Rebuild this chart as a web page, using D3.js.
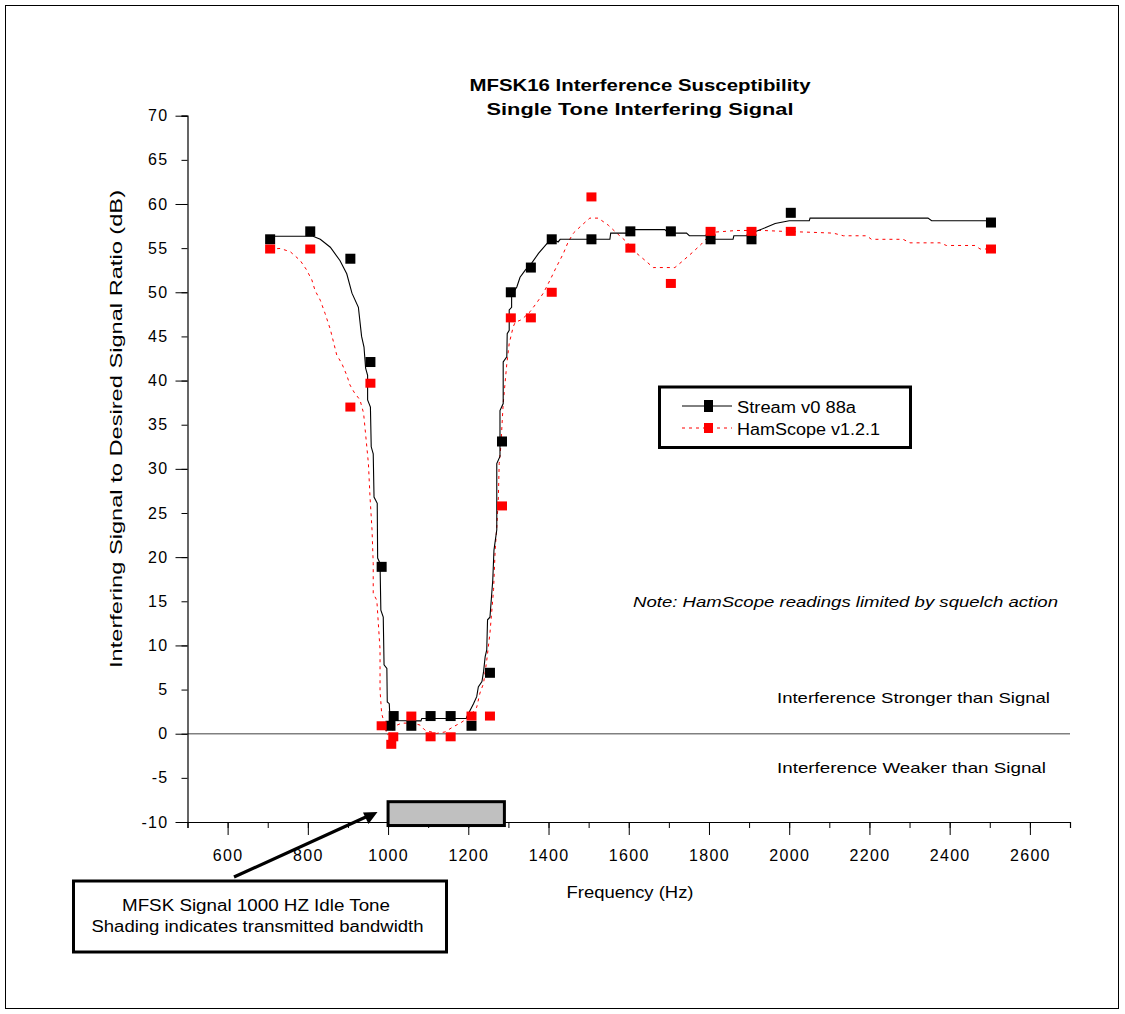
<!DOCTYPE html>
<html><head><meta charset="utf-8">
<script src="https://cdn.jsdelivr.net/npm/d3@7"></script>
<style>body{margin:0;background:#fff} text{font-family:"Liberation Sans",Arial,sans-serif;fill:#000}</style>
</head><body><svg id="c" width="1125" height="1014"></svg>
<script>
// ---- data ----
const titleLines = ["MFSK16 Interference Susceptibility", "Single Tone Interfering Signal"];
const seriesNames = ["Stream v0 88a", "HamScope v1.2.1"];
const xMajorTicks = [600, 800, 1000, 1200, 1400, 1600, 1800, 2000, 2200, 2400, 2600];
const xMinorTicks = [500, 600, 700, 800, 900, 1000, 1100, 1200, 1300, 1400, 1500, 1600, 1700, 1800, 1900, 2000, 2100, 2200, 2300, 2400, 2500, 2600, 2700];
const yLabelTicks = [-10, -5, 0, 5, 10, 15, 20, 25, 30, 35, 40, 45, 50, 55, 60, 65, 70];
const yMajorTicks = [-10, 0, 10, 20, 30, 40, 50, 60, 70];

// measured points (markers)
const streamFreq = [706, 806, 906, 956, 984, 1006, 1014, 1058, 1106, 1156, 1208, 1254, 1284, 1306, 1356, 1408, 1507, 1604, 1705, 1804, 1906, 2004, 2503];
const streamDb   = [56.0, 56.9, 53.8, 42.1, 18.9, 0.9, 2.0, 0.9, 2.0, 2.0, 0.9, 6.9, 33.1, 50.0, 52.8, 56.0, 56.0, 56.9, 56.9, 56.0, 56.0, 59.0, 57.9];
const hamFreq = [706, 806, 906, 956, 984, 1008, 1013, 1058, 1106, 1156, 1208, 1254, 1284, 1306, 1356, 1408, 1507, 1604, 1705, 1804, 1906, 2004, 2503];
const hamDb   = [54.9, 54.9, 37.0, 39.7, 0.9, -1.2, -0.35, 2.0, -0.35, -0.35, 2.0, 2.0, 25.8, 47.1, 47.1, 50.0, 60.8, 55.0, 51.0, 56.9, 56.9, 56.9, 54.9];

// smoothed curves
const streamLineFreq = [706, 813, 831, 856, 880, 897, 910, 926, 934, 940, 944, 949, 949, 956, 958, 963, 965, 973, 974, 980, 982, 988, 990, 997, 998, 1003, 1005, 1082, 1084, 1195, 1196, 1213, 1221, 1225, 1234, 1238, 1242, 1246, 1248, 1254, 1261, 1264, 1271, 1271, 1279, 1279, 1287, 1287, 1296, 1297, 1302, 1302, 1308, 1308, 1321, 1329, 1342, 1358, 1375, 1396, 1408, 1424, 1429, 1553, 1555, 1611, 1611, 1690, 1699, 1744, 1751, 1798, 1800, 1860, 1862, 1900, 1905, 1940, 1965, 2000, 2050, 2052, 2346, 2355, 2503];
const streamLineDb   = [56.35, 56.35, 56.0, 55.1, 53.6, 52.1, 49.9, 48.3, 45.0, 43.8, 41.4, 40.6, 37.8, 37.0, 32.5, 31.7, 26.8, 26.1, 19.9, 19.3, 14.0, 13.2, 7.8, 7.4, 3.6, 3.4, 1.5, 1.46, 1.73, 1.73, 1.9, 3.4, 4.2, 5.3, 5.9, 7.0, 8.7, 9.5, 12.9, 13.2, 17.4, 20.8, 23.1, 30.6, 31.4, 36.6, 37.4, 42.1, 42.7, 45.3, 45.7, 48.0, 48.3, 49.7, 50.6, 51.7, 52.5, 53.3, 54.4, 55.5, 56.1, 55.7, 56.0, 56.0, 56.7, 56.7, 57.1, 57.1, 56.7, 56.7, 56.4, 56.4, 56.0, 56.0, 56.4, 56.4, 56.7, 57.3, 57.8, 58.1, 58.1, 58.4, 58.4, 58.1, 58.1];
const hamLineFreq = [706, 731, 756, 781, 796, 810, 818, 831, 843, 856, 866, 872, 885, 897, 905, 915, 930, 939, 943, 947, 951, 955, 960, 963, 963, 972, 980, 980, 984, 993, 997, 1009, 1022, 1034, 1063, 1080, 1092, 1121, 1142, 1163, 1180, 1196, 1209, 1221, 1229, 1238, 1246, 1254, 1263, 1267, 1271, 1275, 1277, 1281, 1287, 1296, 1302, 1312, 1317, 1333, 1354, 1372, 1387, 1404, 1420, 1437, 1449, 1462, 1483, 1503, 1524, 1549, 1570, 1595, 1620, 1641, 1661, 1715, 1736, 1761, 1782, 1798, 1811, 1869, 1935, 1985, 2052, 2110, 2135, 2193, 2205, 2284, 2301, 2376, 2392, 2463, 2476, 2503];
const hamLineDb   = [54.9, 54.96, 54.6, 53.6, 52.6, 51.4, 50.2, 49.1, 47.6, 45.8, 44.0, 42.9, 41.9, 40.6, 39.5, 38.7, 37.8, 36.3, 34.4, 32.5, 30.6, 26.8, 23.1, 19.3, 15.9, 15.1, 9.5, 4.9, 2.3, 0.8, -0.15, 0.2, 0.97, 1.2, 1.2, 0.97, 0.4, 0.03, 0.2, 0.8, 1.2, 1.7, 2.3, 3.0, 4.6, 5.7, 8.3, 11.4, 16.3, 20.8, 23.4, 26.8, 30.6, 32.5, 37.4, 41.9, 44.2, 46.1, 46.6, 46.9, 47.8, 48.9, 49.9, 51.4, 52.9, 54.4, 55.7, 56.7, 57.6, 58.4, 58.4, 57.6, 56.7, 55.7, 54.4, 53.6, 52.8, 52.8, 53.6, 54.6, 55.5, 56.3, 56.8, 57.0, 57.0, 56.9, 56.8, 56.7, 56.4, 56.4, 56.0, 56.0, 55.6, 55.6, 55.3, 55.3, 54.9, 54.9];

// transmitted bandwidth shading
const bandFreq = [1000, 1290];
const bandDb = [-10.4, -7.7];

// ---- drawing ----
const svg = d3.select("#c");
const x = d3.scaleLinear().domain([500, 2700]).range([187.5, 1070]);
const y = d3.scaleLinear().domain([-10, 70]).range([822, 115.7]);

// outer frame
svg.append("rect").attr("x", 5.5).attr("y", 5.5).attr("width", 1113).attr("height", 1003)
  .attr("fill", "none").attr("stroke", "#000").attr("stroke-width", 1);

// title
svg.selectAll("text.title").data(titleLines).join("text")
  .attr("x", 640).attr("y", (d, i) => 91 + i * 23.5)
  .attr("text-anchor", "middle").attr("font-size", 17).attr("font-weight", "bold")
  .attr("textLength", (d, i) => i === 0 ? 341 : 307).attr("lengthAdjust", "spacingAndGlyphs")
  .text(d => d);

// zero line
svg.append("line").attr("x1", x(500)).attr("x2", x(2700)).attr("y1", y(0)).attr("y2", y(0))
  .attr("stroke", "#808080").attr("stroke-width", 1.5);

// axes
const fmt = d => d;
const yAx = svg.append("g").attr("transform", `translate(${x(500)},0)`)
  .call(d3.axisLeft(y).tickValues(yLabelTicks).tickSize(6).tickPadding(13).tickFormat(fmt));
svg.append("g").attr("transform", `translate(${x(500)},0)`)
  .call(d3.axisLeft(y).tickValues(yMajorTicks).tickSize(12).tickFormat(""))
  .select(".domain").remove();
const xAx = svg.append("g").attr("transform", `translate(0,${y(-10)})`)
  .call(d3.axisBottom(x).tickValues(xMinorTicks).tickSize(6).tickFormat(""));
svg.append("g").attr("transform", `translate(0,${y(-10)})`)
  .call(d3.axisBottom(x).tickValues(xMajorTicks).tickSize(13).tickPadding(15).tickFormat(fmt))
  .select(".domain").remove();
svg.selectAll(".domain").attr("stroke", "#000").attr("stroke-width", 1.2);
svg.selectAll(".tick line").attr("stroke", "#000");
svg.selectAll(".tick text").attr("font-size", 16).attr("letter-spacing", 1.3)
  .attr("font-family", '"Liberation Sans",Arial,sans-serif').attr("fill", "#000");
// remove outer ticks of domain path (Excel style)
svg.selectAll(".domain").attr("d", function () {
  const d = d3.select(this.parentNode).attr("transform");
  return d3.select(this).attr("d");
});

// axis titles
svg.append("text").attr("transform", "translate(122,429) rotate(-90)")
  .attr("text-anchor", "middle").attr("font-size", 16)
  .attr("textLength", 478).attr("lengthAdjust", "spacingAndGlyphs")
  .text("Interfering Signal to Desired Signal Ratio (dB)");
svg.append("text").attr("x", 630).attr("y", 898).attr("text-anchor", "middle").attr("font-size", 16)
  .attr("textLength", 127).attr("lengthAdjust", "spacingAndGlyphs").text("Frequency (Hz)");

// band shading
svg.append("rect").attr("x", x(bandFreq[0])).attr("width", x(bandFreq[1]) - x(bandFreq[0]))
  .attr("y", y(bandDb[1])).attr("height", y(bandDb[0]) - y(bandDb[1]))
  .attr("fill", "#c0c0c0").attr("stroke", "#000").attr("stroke-width", 3);

// curves
const line = d3.line().x(d => x(d[0])).y(d => y(d[1]));
const hamLine = hamLineFreq.map((f, i) => [f, hamLineDb[i]]);
const streamLine = streamLineFreq.map((f, i) => [f, streamLineDb[i]]);
svg.append("path").attr("d", line(hamLine)).attr("fill", "none")
  .attr("stroke", "#ff0000").attr("stroke-width", 1).attr("stroke-dasharray", "3,4");
svg.append("path").attr("d", line(streamLine)).attr("fill", "none")
  .attr("stroke", "#000").attr("stroke-width", 1.1);

// markers
const streamPts = streamFreq.map((f, i) => [f, streamDb[i]]);
const hamPts = hamFreq.map((f, i) => [f, hamDb[i]]);
svg.selectAll("rect.sm").data(streamPts).join("rect").attr("class", "sm")
  .attr("x", d => x(d[0]) - 5).attr("y", d => y(d[1]) - 5).attr("width", 10).attr("height", 10)
  .attr("fill", "#000");
svg.selectAll("rect.hm").data(hamPts).join("rect").attr("class", "hm")
  .attr("x", d => x(d[0]) - 5).attr("y", d => y(d[1]) - 4.5).attr("width", 10).attr("height", 9)
  .attr("fill", "#ff0000");

// legend
const lg = svg.append("g");
lg.append("rect").attr("x", 659.5).attr("y", 387).attr("width", 251).attr("height", 60.5)
  .attr("fill", "#fff").attr("stroke", "#000").attr("stroke-width", 3);
const legY = [406, 428];
lg.append("line").attr("x1", 682).attr("x2", 732).attr("y1", legY[0]).attr("y2", legY[0]).attr("stroke", "#000");
lg.append("rect").attr("x", 704).attr("y", legY[0] - 6).attr("width", 9).attr("height", 12).attr("fill", "#000");
lg.append("line").attr("x1", 682).attr("x2", 732).attr("y1", legY[1]).attr("y2", legY[1])
  .attr("stroke", "#ff0000").attr("stroke-dasharray", "3,4");
lg.append("rect").attr("x", 704).attr("y", legY[1] - 5).attr("width", 9).attr("height", 10).attr("fill", "#ff0000");
lg.selectAll("text").data(seriesNames).join("text")
  .attr("x", 737).attr("y", (d, i) => legY[i] + 7).attr("font-size", 16)
  .attr("textLength", (d, i) => i === 0 ? 119 : 143).attr("lengthAdjust", "spacingAndGlyphs")
  .text(d => d);

// notes
svg.append("text").attr("x", 633).attr("y", 607).attr("font-size", 15).attr("font-style", "italic")
  .attr("textLength", 425).attr("lengthAdjust", "spacingAndGlyphs")
  .text("Note:  HamScope readings limited by squelch action");
svg.append("text").attr("x", 777).attr("y", 703).attr("font-size", 15)
  .attr("textLength", 273).attr("lengthAdjust", "spacingAndGlyphs")
  .text("Interference Stronger than Signal");
svg.append("text").attr("x", 777).attr("y", 773).attr("font-size", 15)
  .attr("textLength", 269).attr("lengthAdjust", "spacingAndGlyphs")
  .text("Interference Weaker than Signal");

// annotation box and arrow
svg.append("line").attr("x1", 234).attr("y1", 877).attr("x2", 368).attr("y2", 816)
  .attr("stroke", "#000").attr("stroke-width", 3.2);
svg.append("path").attr("d", "M377.5,812 L363,812.5 L368.5,824 Z").attr("fill", "#000");
svg.append("rect").attr("x", 73.5).attr("y", 881).attr("width", 373).attr("height", 71)
  .attr("fill", "#fff").attr("stroke", "#000").attr("stroke-width", 3);
svg.append("text").attr("x", 256).attr("y", 911).attr("text-anchor", "middle").attr("font-size", 16)
  .attr("textLength", 268).attr("lengthAdjust", "spacingAndGlyphs").text("MFSK Signal 1000 HZ Idle Tone");
svg.append("text").attr("x", 257.5).attr("y", 932).attr("text-anchor", "middle").attr("font-size", 16)
  .attr("textLength", 332).attr("lengthAdjust", "spacingAndGlyphs").text("Shading indicates transmitted bandwidth");
</script></body></html>
